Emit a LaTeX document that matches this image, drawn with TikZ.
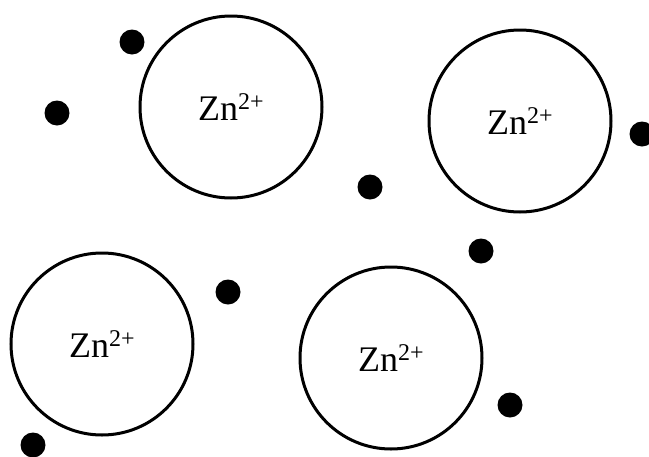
\documentclass[tikz,border=0pt]{standalone}
\usepackage{fontspec}
\setmainfont{Liberation Serif}
\usetikzlibrary{positioning}
\newcommand{\zincion}{Zn\raisebox{0.3em}{\fontsize{24}{28}\selectfont 2+}}
\tikzset{
  ion/.style={draw=black, circle, line width=3pt, minimum size=182pt, inner sep=0pt,
              font=\fontsize{36}{42}\selectfont},
  elec/.style={fill=black, circle, minimum size=25pt, inner sep=0pt},
}

\begin{document}
\begin{tikzpicture}[x=1pt, y=-1pt]
  \clip (0,0) rectangle (649,456);
  \useasboundingbox (0,0) rectangle (649,456);

  % zinc ions
  \node[ion] (ion1) at (231,107) {\zincion};
  \node[ion] (ion2) at (520,121) {\zincion};
  \node[ion] (ion3) at (102,344) {\zincion};
  \node[ion] (ion4) at (391,358) {\zincion};

  % free electrons
  \node[elec] (e1) at (132,42) {};
  \node[elec] (e2) at (57,113) {};
  \node[elec] (e3) at (370,187) {};
  \node[elec] (e4) at (642,134) {};
  \node[elec] (e5) at (481,251) {};
  \node[elec] (e6) at (228,292) {};
  \node[elec] (e7) at (510,405) {};
  \node[elec] (e8) at (33,445) {};
\end{tikzpicture}
\end{document}
